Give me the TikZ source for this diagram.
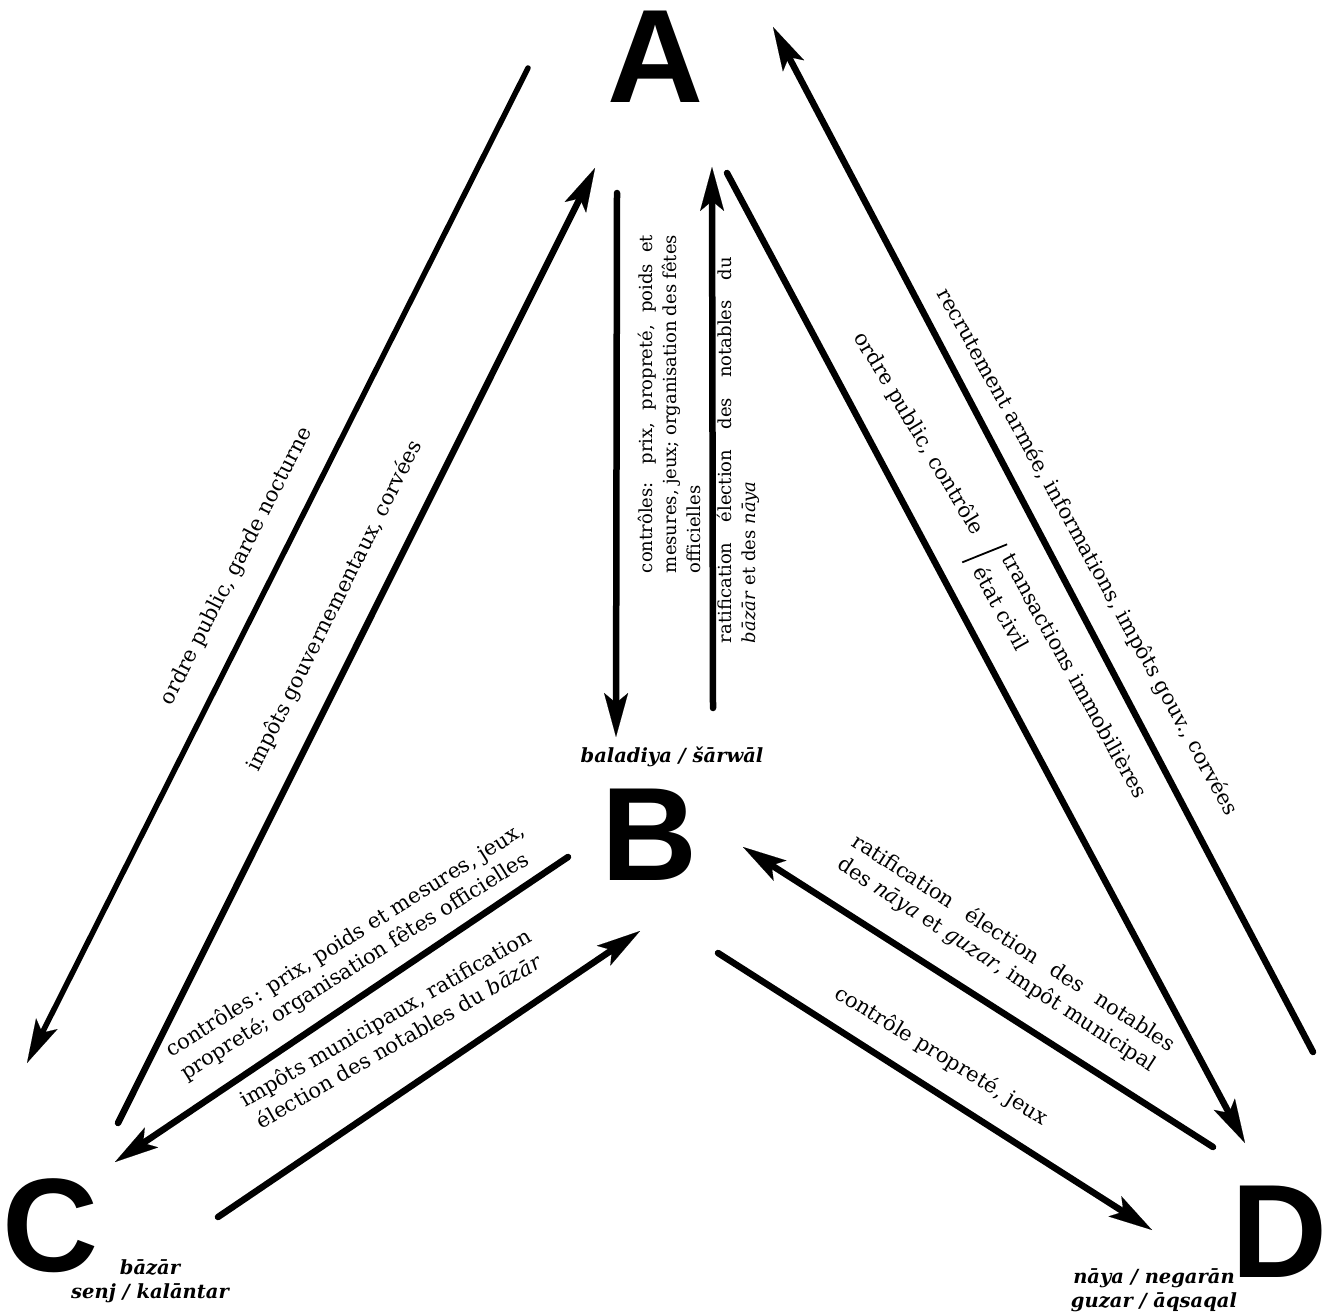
\documentclass[tikz,border=0pt]{standalone}
\usepackage{fontspec}
\setmainfont{DejaVu Serif}
\newfontfamily\lettersans{Liberation Sans}
\usetikzlibrary{arrows.meta}
\newcommand\stretchline[2]{\makebox[#1][s]{#2}}

\tikzset{
  flow/.style={line width=6.5pt, line cap=round,
    -{Stealth[length=44pt, width=24pt, inset=10pt, line width=0.1pt]}},
  letter/.style={font=\lettersans\bfseries\fontsize{133}{133}\selectfont,
    inner sep=0pt, anchor=base},
  lbl/.style={font=\fontsize{21}{27}\selectfont, inner sep=0pt},
  vlbl/.style={font=\fontsize{18}{24}\selectfont, inner sep=0pt,
    rotate=90, align=left},
  place/.style={font=\bfseries\itshape\fontsize{19.5}{24}\selectfont,
    inner sep=0pt, align=center},
}

\begin{document}
\begin{tikzpicture}[x=1pt, y=-1pt]
\useasboundingbox (0,0) rectangle (1327,1313);

% the four poles
\node[letter] (A) at (656,103) {A};
\node[letter] (B) at (650,880) {B};
\node[letter] (C) at (51,1271) {C};
\node[letter] (D) at (1280,1277) {D};

% ends of the flows
\coordinate (a1) at (528,68);    \coordinate (c1) at (27,1063);
\coordinate (c2) at (118,1123);  \coordinate (a2) at (595,168);
\coordinate (a3) at (617,193);   \coordinate (b3) at (616,737);
\coordinate (b4) at (713,708);   \coordinate (a4) at (712,167);
\coordinate (a5) at (727,173);   \coordinate (d5) at (1245,1143);
\coordinate (d6) at (1313,1052); \coordinate (a6) at (773,27);
\coordinate (d7) at (1213,1147); \coordinate (b7) at (743,847);
\coordinate (b8) at (718,953);   \coordinate (d8) at (1152,1230);
\coordinate (b9) at (568,857);   \coordinate (c9) at (115,1162);
\coordinate (c10) at (218,1217); \coordinate (b10) at (640,931);

% flows
\draw[flow, line width=5.5pt] (a1) -- (c1);
\draw[flow] (c2) -- (a2);
\draw[flow] (a3) -- (b3);
\draw[flow] (b4) -- (a4);
\draw[flow] (a5) -- (d5);
\draw[flow] (d6) -- (a6);
\draw[flow] (d7) -- (b7);
\draw[flow] (b8) -- (d8);
\draw[flow] (b9) -- (c9);
\draw[flow] (c10) -- (b10);

% labels of the flows
\node[lbl, rotate=63] (t1) at (237,566) {ordre public, garde nocturne};
\node[lbl, rotate=63.5] (t2) at (335,606) {impôts gouvernementaux, corvées};
\node[vlbl] (t3) at (669,404)
  {\stretchline{338pt}{contrôles: prix, propreté, poids et}\\
   \stretchline{338pt}{mesures, jeux; organisation des fêtes}\\
   officielles};
\node[vlbl] (t4) at (738,450)
  {\stretchline{386pt}{ratification élection des notables du}\\
   \textit{bāzār} et des \textit{nāya}};
\begin{scope}[shift={(1001,558)}, rotate=-61, transform shape]
  \node[lbl, anchor=base west] (t5a) at (0,0) {transactions immobilières};
  \node[lbl, anchor=base west] (t5b) at (-2,32) {état civil};
  \node[lbl, anchor=base east, rotate=2] (t5c) at (-32,14) {ordre public, contrôle};
  \draw[line width=1.8pt] (-15,36) -- (-9,-12);
\end{scope}
\node[lbl, rotate=-61] (t6) at (1087,552)
  {recrutement armée, informations, impôts gouv., corvées};
\node[lbl, rotate=-33, align=left] (t7) at (1006,955)
  {\stretchline{380pt}{ratification élection des notables}\\
   des \textit{nāya} et \textit{guzar}, impôt municipal};
\node[lbl, rotate=-31.5] (t8) at (941,1056) {contrôle propreté, jeux};
\node[lbl, rotate=32.2, align=left] (t9) at (353,952)
  {contrôles\,: prix, poids et mesures, jeux,\\
   propreté; organisation fêtes officielles};
\node[lbl, rotate=30, align=center] (t10) at (392,1029)
  {impôts municipaux, ratification\\
   élection des notables du \textit{bāzār}};

% names under the poles
\node[place] (pb) at (672,757) {baladiya / šārwāl};
\node[place] (pc) at (150,1281) {bāzār\\ senj / kalāntar};
\node[place] (pd) at (1154,1290) {nāya / negarān\\ guzar / āqsaqal};
\end{tikzpicture}
\end{document}
